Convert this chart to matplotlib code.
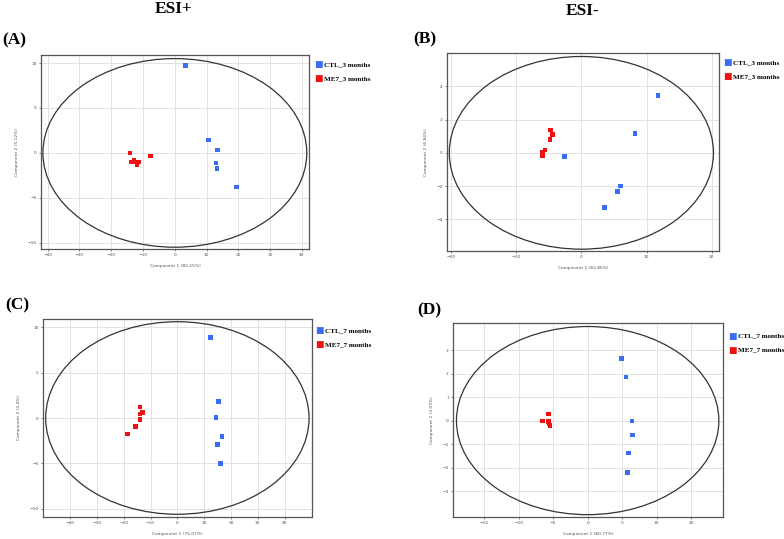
import matplotlib
matplotlib.use("Agg")
import matplotlib.pyplot as plt
from matplotlib.patches import Ellipse

# ---------------- data ----------------
# Panel A (ESI+, 3 months)
a_ctl_x = [3.4, 10.5, 13.4, 13.0, 13.3, 19.4]
a_ctl_y = [9.7, 1.45, 0.33, -1.14, -1.73, -3.79]
a_me7_x = [-14.1, -13.6, -12.8, -12.4, -11.9, -11.3, -7.6]
a_me7_y = [0.0, -1.03, -0.85, -1.0, -1.29, -1.03, -0.33]
a_ellipse = (41.5, 10.5)

# Panel B (ESI-, 3 months)
b_ctl_x = [11.76, 8.24, -2.56, 6.04, 5.52, 3.53]
b_ctl_y = [3.46, 1.15, -0.22, -1.99, -2.33, -3.28]
b_me7_x = [-4.76, -4.45, -4.81, -5.58, -5.93, -5.93]
b_me7_y = [1.37, 1.09, 0.80, 0.16, 0.06, -0.20]
b_ellipse = (20.25, 5.79)

# Panel C (ESI+, 7 months)
c_ctl_x = [12.3, 15.3, 14.4, 16.6, 15.0, 16.0]
c_ctl_y = [8.83, 1.82, 0.06, -2.07, -2.92, -5.01]
c_me7_x = [-14.0, -13.9, -12.9, -13.9, -15.5, -18.6]
c_me7_y = [1.23, 0.46, 0.61, -0.16, -0.94, -1.78]
c_ellipse = (49.1, 10.6)

# Panel D (ESI-, 7 months)
d_ctl_x = [4.88, 5.56, 6.43, 6.52, 5.94, 5.75]
d_ctl_y = [2.64, 1.86, -0.02, -0.61, -1.38, -2.20]
d_me7_x = [-5.65, -6.52, -5.70, -5.60, -5.46]
d_me7_y = [0.28, -0.02, -0.05, -0.12, -0.21]
d_ellipse = (19.0, 4.0)

legend_3 = ["CTL_3 months", "ME7_3 months"]
legend_7 = ["CTL_7 months", "ME7_7 months"]
xlabels = ["Component 1 (80.55%)", "Component 1 (82.86%)",
           "Component 1 (75.07%)", "Component 1 (80.77%)"]
ylabels = ["Component 2 (5.12%)", "Component 2 (6.84%)",
           "Component 2 (3.4%)", "Component 2 (3.03%)"]
panel_tags = ["(A)", "(B)", "(C)", "(D)"]
column_titles = ["ESI+", "ESI-"]

BLUE = "#3a6cf6"
RED = "#f01010"

W, H = 784, 539
fig = plt.figure(figsize=(W / 100, H / 100), dpi=100)
fig.patch.set_facecolor("white")


def px_axes(l, r, t, b):
    return fig.add_axes([l / W, 1 - b / H, (r - l) / W, (b - t) / H])


def draw_panel(ax, cx, cy, mx, my, ell, xlim, ylim, xticks, yticks, xl, yl):
    ax.set_facecolor("white")
    ax.set_xlim(*xlim)
    ax.set_ylim(*ylim)
    ax.set_xticks(xticks)
    ax.set_yticks(yticks)
    ax.grid(True, color="#e2e2e2", linewidth=0.7)
    ax.set_axisbelow(True)
    ax.add_patch(Ellipse((0, 0), 2 * ell[0], 2 * ell[1], fill=False,
                         edgecolor="#333333", linewidth=0.9, zorder=2))
    ax.scatter(cx, cy, marker="s", s=11, color=BLUE, edgecolors="none", zorder=3)
    ax.scatter(mx, my, marker="s", s=11, color=RED, edgecolors="none", zorder=3)
    ax.tick_params(labelsize=3.2, length=1.5, width=0.5, colors="#555555", pad=1.5)
    for s in ax.spines.values():
        s.set_color("#555555")
        s.set_linewidth(0.9)
    ax.set_xlabel(xl, fontsize=3.2, color="#555555", labelpad=5)
    ax.set_ylabel(yl, fontsize=3.2, color="#555555", labelpad=6)


def add_legend(x, y0, labels):
    for i, (lab, col) in enumerate(zip(labels, [BLUE, RED])):
        yy = y0 + i * 14
        fig.text(x / W, 1 - yy / H, "\u25A0", color=col, fontsize=6.5,
                 ha="center", va="center", family="DejaVu Sans")
        fig.text((x + 6) / W, 1 - yy / H, lab, fontsize=5.1, fontweight="bold",
                 family="Liberation Serif", ha="left", va="center")


axA = px_axes(41, 309, 55, 249)
draw_panel(axA, a_ctl_x, a_ctl_y, a_me7_x, a_me7_y, a_ellipse,
           (-42.1, 42.2), (-10.7, 10.9), range(-40, 41, 10), [-10, -5, 0, 5, 10],
           xlabels[0], ylabels[0])
axB = px_axes(447, 719, 53, 251)
draw_panel(axB, b_ctl_x, b_ctl_y, b_me7_x, b_me7_y, b_ellipse,
           (-20.6, 21.1), (-5.9, 6.0), [-20, -10, 0, 10, 20], [-4, -2, 0, 2, 4],
           xlabels[1], ylabels[1])
axC = px_axes(43, 312, 319, 517)
draw_panel(axC, c_ctl_x, c_ctl_y, c_me7_x, c_me7_y, c_ellipse,
           (-50.1, 50.2), (-10.9, 10.9), range(-40, 41, 10), [-10, -5, 0, 5, 10],
           xlabels[2], ylabels[2])
axD = px_axes(453, 723, 323, 517)
draw_panel(axD, d_ctl_x, d_ctl_y, d_me7_x, d_me7_y, d_ellipse,
           (-19.5, 19.6), (-4.1, 4.15), range(-15, 16, 5), [-3, -2, -1, 0, 1, 2, 3],
           xlabels[3], ylabels[3])

add_legend(318, 65, legend_3)
add_legend(727, 63, legend_3)
add_legend(319, 331, legend_7)
add_legend(732, 336, legend_7)

for (x, y), tag in zip([(14, 40), (425, 39), (17, 305), (429, 310)], panel_tags):
    fig.text(x / W, 1 - y / H, tag, fontsize=12.5, fontweight="bold",
             family="Liberation Serif", ha="center", va="center")
for (x, y), t in zip([(174, 9), (583, 11)], column_titles):
    fig.text(x / W, 1 - y / H, t, fontsize=12.5, fontweight="bold",
             family="Liberation Serif", ha="center", va="center")

fig.savefig("out.png", dpi=100, facecolor="white")
